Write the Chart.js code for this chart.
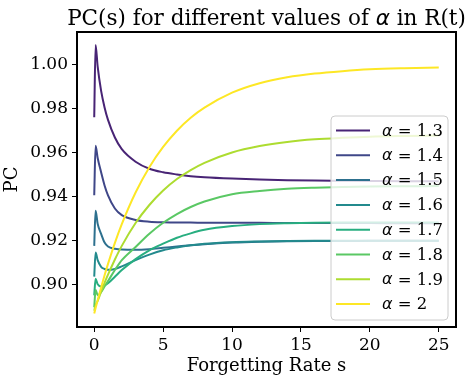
<!DOCTYPE html>
<html>
<head>
<meta charset="utf-8">
<script src="https://cdn.jsdelivr.net/npm/chart.js@4.4.1/dist/chart.umd.min.js"></script>
<style>
    html, body { margin: 0; padding: 0; background: #ffffff; }
    #chart { display: block; }
</style>
</head>
<body>
<canvas id="chart" width="474" height="382"></canvas>
<script>
// forgetting rate s
var sValues = [0, 0.1, 0.25, 0.5, 0.75, 1, 1.5, 2, 3, 4, 5, 6, 7, 8, 10, 12, 14, 16, 18, 20, 22.5, 25];

// PC(s) for each alpha
var pc13 = [0.9760, 1.0089, 0.9990, 0.9880, 0.9805, 0.9748, 0.9668, 0.9615, 0.9558, 0.9526, 0.9510, 0.9500, 0.9492, 0.9487, 0.9481, 0.9477, 0.9474, 0.9472, 0.9471, 0.9470, 0.9469, 0.9469];
var pc14 = [0.9405, 0.9630, 0.9575, 0.9510, 0.9450, 0.9405, 0.9345, 0.9315, 0.9293, 0.9285, 0.9282, 0.9281, 0.9281, 0.9280, 0.9280, 0.9280, 0.9279, 0.9279, 0.9279, 0.9279, 0.9278, 0.9278];
var pc15 = [0.9175, 0.9335, 0.9275, 0.9230, 0.9190, 0.9172, 0.9162, 0.9158, 0.9157, 0.9160, 0.9166, 0.9172, 0.9178, 0.9183, 0.9190, 0.9194, 0.9196, 0.9197, 0.9197, 0.9198, 0.9198, 0.9198];
var pc16 = [0.9035, 0.9145, 0.9110, 0.9080, 0.9070, 0.9066, 0.9070, 0.9082, 0.9110, 0.9135, 0.9155, 0.9168, 0.9178, 0.9185, 0.9192, 0.9195, 0.9197, 0.9198, 0.9198, 0.9198, 0.9198, 0.9198];
var pc17 = [0.8950, 0.9025, 0.9000, 0.8990, 0.8995, 0.9005, 0.9035, 0.9065, 0.9115, 0.9155, 0.9185, 0.9212, 0.9232, 0.9248, 0.9265, 0.9274, 0.9278, 0.9280, 0.9281, 0.9281, 0.9281, 0.9281];
var pc18 = [0.8896, 0.8975, 0.8950, 0.8965, 0.8990, 0.9015, 0.9065, 0.9110, 0.9170, 0.9230, 0.9280, 0.9320, 0.9352, 0.9377, 0.9410, 0.9425, 0.9435, 0.9440, 0.9443, 0.9445, 0.9446, 0.9447];
var pc19 = [0.8880, 0.8905, 0.8925, 0.8967, 0.9007, 0.9044, 0.9113, 0.9175, 0.9279, 0.9361, 0.9427, 0.9479, 0.9520, 0.9553, 0.9600, 0.9629, 0.9648, 0.9660, 0.9667, 0.9672, 0.9675, 0.9677];
var pc20 = [0.8867, 0.8892, 0.8928, 0.8986, 0.9041, 0.9093, 0.9189, 0.9274, 0.9418, 0.9533, 0.9625, 0.9699, 0.9758, 0.9804, 0.9872, 0.9915, 0.9942, 0.9959, 0.9970, 0.9978, 0.9983, 0.9986];

var alphas = ['1.3', '1.4', '1.5', '1.6', '1.7', '1.8', '1.9', '2'];
var series = [pc13, pc14, pc15, pc16, pc17, pc18, pc19, pc20];
var colors = ['#482475', '#3f4788', '#2d708e', '#238a8d', '#28ae80', '#5ac864', '#addc30', '#fde725'];

var xTicks = [0, 5, 10, 15, 20, 25];
var yTicks = [0.90, 0.92, 0.94, 0.96, 0.98, 1.00];

var serif = "'DejaVu Serif', serif";
var mathFont = "italic 16px 'DejaVu Sans', sans-serif";

var datasets = series.map(function(vals, i) {
    return {
        label: '\u03b1 = ' + alphas[i],
        data: sValues.map(function(s, j) { return { x: s, y: vals[j] }; }),
        borderColor: colors[i],
        backgroundColor: colors[i],
        borderWidth: 2,
        pointRadius: 0,
        cubicInterpolationMode: 'monotone',
        fill: false,
        order: series.length - i
    };
});

// draws text pieces, some of them in the math (italic) font
function drawPieces(ctx, pieces, x, y, align) {
    var total = 0;
    pieces.forEach(function(p) { ctx.font = p.font; total += ctx.measureText(p.text).width; });
    var cx = align === 'center' ? x - total / 2 : x;
    ctx.textAlign = 'left';
    pieces.forEach(function(p) {
        ctx.font = p.font;
        ctx.fillText(p.text, cx, y);
        cx += ctx.measureText(p.text).width;
    });
}

var decor = {
    id: 'decor',
    afterDraw: function(chart) {
        var ctx = chart.ctx;
        var a = chart.chartArea;
        ctx.save();

        // frame
        ctx.strokeStyle = '#000000';
        ctx.lineWidth = 2;
        ctx.strokeRect(a.left, a.top, a.right - a.left, a.bottom - a.top);

        // title
        ctx.fillStyle = '#000000';
        ctx.textBaseline = 'alphabetic';
        var tf = "21.5px " + serif;
        drawPieces(ctx, [
            { text: 'PC(s) for different values of ', font: tf },
            { text: '\u03b1', font: "italic 21.5px 'DejaVu Sans', sans-serif" },
            { text: ' in R(t)', font: tf }
        ], (a.left + a.right) / 2, 25, 'center');

        // legend
        var lx = 331, ly = 116, lw = 117, lh = 204, r = 4;
        ctx.beginPath();
        ctx.moveTo(lx + r, ly);
        ctx.arcTo(lx + lw, ly, lx + lw, ly + lh, r);
        ctx.arcTo(lx + lw, ly + lh, lx, ly + lh, r);
        ctx.arcTo(lx, ly + lh, lx, ly, r);
        ctx.arcTo(lx, ly, lx + lw, ly, r);
        ctx.closePath();
        ctx.fillStyle = 'rgba(255,255,255,0.8)';
        ctx.fill();
        ctx.strokeStyle = '#cccccc';
        ctx.lineWidth = 1;
        ctx.stroke();

        ctx.textBaseline = 'middle';
        alphas.forEach(function(al, i) {
            var yy = 130.5 + i * 24.8;
            ctx.strokeStyle = colors[i];
            ctx.lineWidth = 2;
            ctx.beginPath();
            ctx.moveTo(336, yy);
            ctx.lineTo(370, yy);
            ctx.stroke();
            ctx.fillStyle = '#000000';
            drawPieces(ctx, [
                { text: '\u03b1', font: mathFont },
                { text: ' = ' + al, font: "16.5px " + serif }
            ], 382, yy + 1, 'left');
        });
        ctx.restore();
    }
};

var ctx = document.getElementById('chart').getContext('2d');
var chart = new Chart(ctx, {
    type: 'line',
    data: { datasets: datasets },
    options: {
        responsive: false,
        animation: false,
        layout: { padding: { top: 32, right: 18, left: 0, bottom: 0 } },
        plugins: {
            legend: { display: false },
            tooltip: { enabled: false },
            title: { display: false }
        },
        scales: {
            x: {
                type: 'linear',
                min: -1.25,
                max: 26.25,
                afterBuildTicks: function(scale) {
                    scale.ticks = xTicks.map(function(v) { return { value: v }; });
                },
                afterFit: function(scale) { scale.height = 55; },
                grid: { drawOnChartArea: false, drawTicks: true, tickLength: 5, color: '#000000', lineWidth: 1 },
                border: { display: false },
                ticks: {
                    color: '#000000',
                    padding: 3,
                    maxRotation: 0,
                    font: { family: serif, size: 17 },
                    callback: function(v) { return String(v); }
                },
                title: {
                    display: true,
                    text: 'Forgetting Rate s',
                    color: '#000000',
                    font: { family: serif, size: 18 },
                    padding: { top: 0, bottom: 5 }
                }
            },
            y: {
                type: 'linear',
                min: 0.8806,
                max: 1.0148,
                afterBuildTicks: function(scale) {
                    scale.ticks = yTicks.map(function(v) { return { value: v }; });
                },
                afterFit: function(scale) { scale.width = 77; },
                grid: { drawOnChartArea: false, drawTicks: true, tickLength: 5, color: '#000000', lineWidth: 1 },
                border: { display: false },
                ticks: {
                    color: '#000000',
                    padding: 4,
                    font: { family: serif, size: 17 },
                    callback: function(v) { return v.toFixed(2); }
                },
                title: {
                    display: true,
                    text: 'PC',
                    color: '#000000',
                    font: { family: serif, size: 18 },
                    padding: { top: 2, bottom: 0 }
                }
            }
        }
    },
    plugins: [decor]
});
</script>
</body>
</html>
